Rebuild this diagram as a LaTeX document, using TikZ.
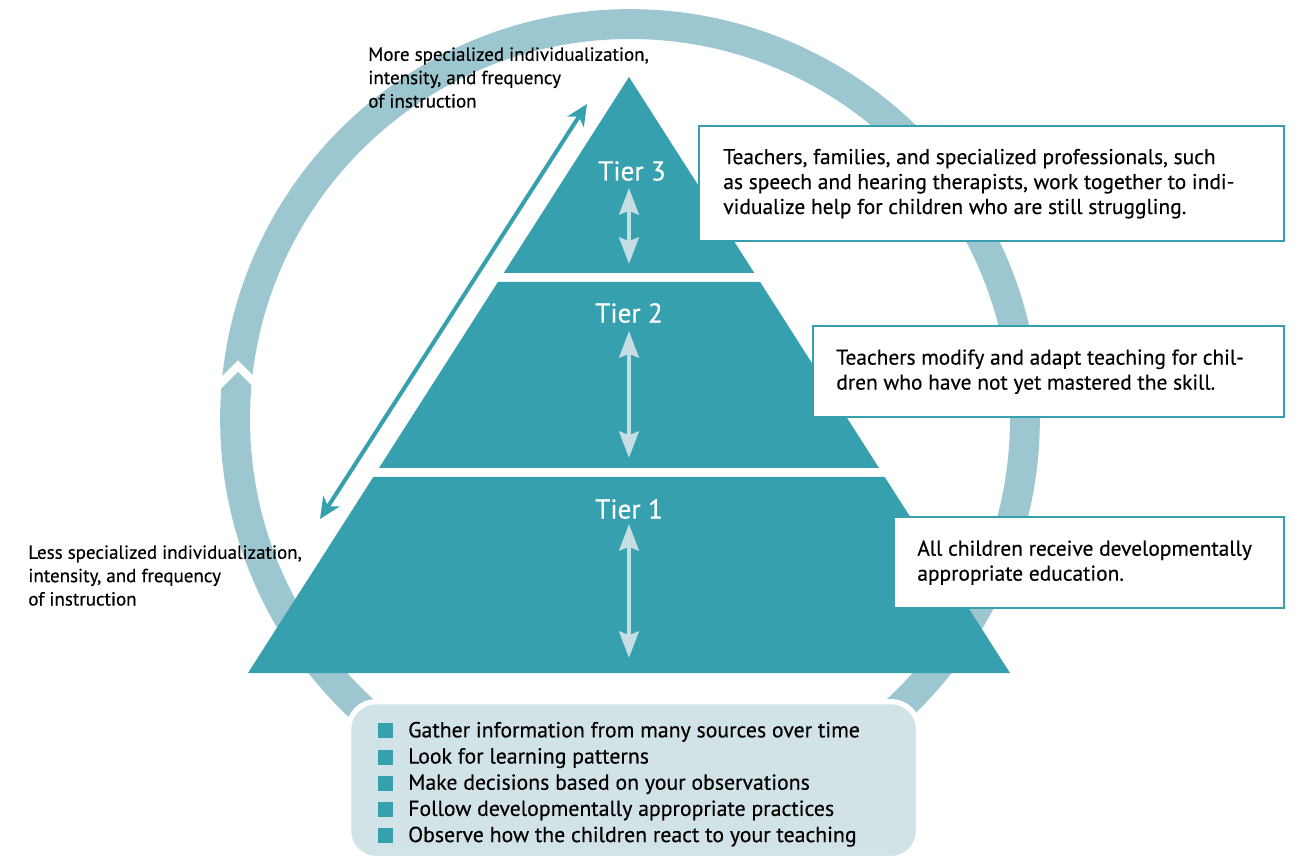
\documentclass[tikz,border=0pt]{standalone}
\usepackage{fontspec}
\setmainfont{PT Sans}[FakeBold=0.35]
\usetikzlibrary{positioning, arrows.meta, calc}
\definecolor{tealc}{HTML}{36A0AE}
\definecolor{ringc}{HTML}{9DC7D0}
\definecolor{palec}{HTML}{C4DEE4}
\definecolor{boxc}{HTML}{D2E3E7}
\newcommand{\sqbul}{\textcolor{tealc}{\rule[-0.6pt]{8.5pt}{8.5pt}}\hspace{8.5pt}}
\tikzset{info frame/.style={draw=tealc, line width=1.4pt, fill=white, anchor=north west},
  info text/.style={inner sep=0pt, align=left, font=\fontsize{12.2}{14.2}\selectfont},
  side text/.style={anchor=north west, inner sep=0pt, align=left, font=\fontsize{10.8}{13.3}\selectfont},
  tier label/.style={text=white, inner sep=0pt, font=\fontsize{15.5}{18}\selectfont},
  tier arrow/.style={draw=palec, line width=2.8pt, {Stealth[length=15pt,width=11pt,inset=2pt]}-{Stealth[length=15pt,width=11pt,inset=2pt]}},}

\begin{document}
\begin{tikzpicture}[x=0.02cm, y=-0.02cm]
				\fill[white] (0,0) rectangle (1303,858);
				\useasboundingbox (0,0) rectangle (1303,858);
				% Cycle
				\coordinate (ctr) at (630,419);
				\draw[ringc, line width=17pt] (ctr) circle[radius=7.9cm];
				\draw[white, line width=4.5pt, miter limit=10] (214,390) -- (238,366) -- (262,390);
				% Tiers
				\fill[tealc] (629,77) -- (754.3,273) -- (503.7,273) -- cycle;
				\fill[tealc] (497.9,282) -- (760.1,282) -- (879,468) -- (379,468) -- cycle;
				\fill[tealc] (373.3,477) -- (884.7,477) -- (1010,673) -- (248,673) -- cycle;
				\node[tier label] (t3) at (632,171) {Tier 3};
				\node[tier label] (t2) at (629,313) {Tier 2};
				\node[tier label] (t1) at (629,509) {Tier 1};
				\coordinate (t3a) at (629,188); \coordinate (t3b) at (629,264);
				\coordinate (t2a) at (629,331); \coordinate (t2b) at (629,458);
				\coordinate (t1a) at (629,524); \coordinate (t1b) at (629,658);
				\draw[tier arrow] (t3a) -- (t3b);
				\draw[tier arrow] (t2a) -- (t2b);
				\draw[tier arrow] (t1a) -- (t1b);
				% Intensity
				\coordinate (more) at (587,104);
				\coordinate (less) at (320,519);
				\draw[tealc, line width=2.3pt, {Stealth[length=12pt,width=11pt,inset=3.5pt]}-{Stealth[length=12pt,width=11pt,inset=3.5pt]}] (less) -- (more);
				\node[side text] (moretxt) at (368,47) {More specialized individualization,\\ intensity, and frequency\\ of instruction};
				\node[side text] (lesstxt) at (28,545) {Less specialized individualization,\\ intensity, and frequency\\ of instruction};
				% Descriptions
				\node[info frame, minimum width=11.7cm, minimum height=2.3cm] (b3) at (698,125) {};
				\node[info frame, minimum width=9.42cm, minimum height=1.82cm] (b2) at (812,325) {};
				\node[info frame, minimum width=7.8cm, minimum height=1.82cm] (b1) at (893,516) {};
				\node[info text] [right=0.5cm of b3.west] (b3txt) {Teachers, families, and specialized professionals, such\\ as speech and hearing therapists, work together to indi-\\ vidualize help for children who are still struggling.};
				\node[info text] [right=0.48cm of b2.west] (b2txt) {Teachers modify and adapt teaching for chil-\\ dren who have not yet mastered the skill.};
				\node[info text] [right=0.48cm of b1.west] (b1txt) {All children receive developmentally\\ appropriate education.};
				% Practices
				\node[draw=white, fill=boxc, line width=3pt, rounded corners=0.55cm, minimum width=11.4cm, minimum height=3.14cm, anchor=north west] (steps) at (346,699) {};
				\node[anchor=north west, inner sep=0pt, align=left, font=\fontsize{12.4}{14.9}\selectfont] [below right=0.45cm and 0.64cm of steps.north west] (list) {\sqbul Gather information from many sources over time\\ \sqbul Look for learning patterns\\ \sqbul Make decisions based on your observations\\ \sqbul Follow developmentally appropriate practices\\ \sqbul Observe how the children react to your teaching};
			\end{tikzpicture}
\end{document}
